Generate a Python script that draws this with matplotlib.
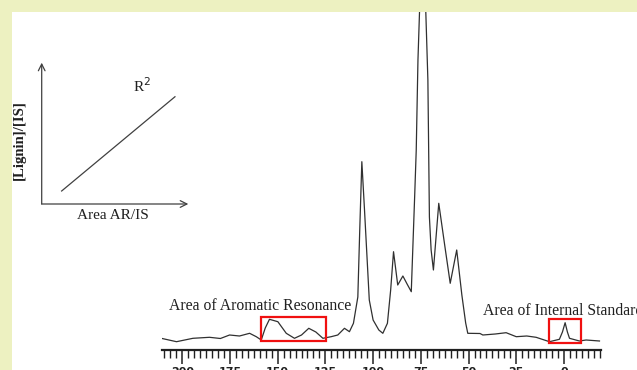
import matplotlib
matplotlib.use("Agg")
import matplotlib.pyplot as plt
import numpy as np
from matplotlib.patches import Rectangle
from matplotlib.ticker import MultipleLocator

# spectrum trace: chemical shift (ppm) and intensity
ppm = [211, 203, 194.4, 185.7, 180, 175.2, 170, 164.7, 161.2, 158.6,
       156.5, 154.3, 149.9, 145.5, 141.2, 137.5, 133.7, 130, 126.3, 122,
       118.5, 115, 112.4, 110.3, 108.0, 107.0, 105.9, 104.5, 102, 100,
       97, 94.9, 92.5, 90.8, 89.3, 87.1, 84.4, 82.2, 80, 78.2, 77.4, 76.5,
       75.7, 74.0, 72.5, 71.3, 70.5, 69.6, 68.4, 65.6, 62.5, 59.6, 56.2,
       53.5, 51.5, 50.4, 44, 42.5, 36, 30.3, 25, 19.5, 14.6, 7.6, 2.4,
       0.8, -0.6, -1.8, -2.9, -8.1, -11.6, -18.6]
intensity = [11.7, 8.3, 11.7, 12.7, 11.5, 15, 14, 16.7, 13.3, 10,
             22, 30.7, 28.3, 16.7, 11.7, 15, 21.7, 18, 11.7, 13.3,
             15, 21.7, 18.3, 26.7, 53, 120, 188.3, 140, 50, 30,
             20, 16.7, 26.7, 60, 98.3, 65, 74, 66, 58.3, 155, 200, 290,
             337, 420, 345, 270, 133, 100, 80, 146.7, 105, 66.7, 100,
             55, 27, 16.7, 16.5, 15, 16, 17.3, 13.3, 14, 12.7, 8.3, 10.7,
             18, 27.3, 18, 11.7, 9, 10, 9]

# integration windows (ppm from, ppm to, intensity low, high)
aromatic_box = (158.6, 124.9, 9.0, 33.3)
standard_box = (7.6, -9.0, 7.3, 31.0)

major_ticks = [200, 175, 150, 125, 100, 75, 50, 25, 0]

# calibration sketch
fit_x = [0.136, 0.909]
fit_y = [0.092, 0.759]

W, H = 637, 370
fig = plt.figure(figsize=(W / 100, H / 100), dpi=100)
fig.patch.set_facecolor("white")

# pale frame at top and left
border = "#EDF1C1"
fig.add_artist(Rectangle((0, 0), 12 / W, 1, transform=fig.transFigure,
                         facecolor=border, edgecolor="none", zorder=0))
fig.add_artist(Rectangle((0, 1 - 12 / H), 1, 12 / H, transform=fig.transFigure,
                         facecolor=border, edgecolor="none", zorder=0))

serif = "Liberation Serif"

# ---- spectrum ----
ax = fig.add_axes([162 / W, (H - 350) / H, 439 / W, 338 / H])
ax.patch.set_alpha(0)
ax.plot(ppm, intensity, color="#303030", lw=0.9)
ax.set_xlim(210.6, -19.4)
ax.set_ylim(0, 338)
for s in ["left", "right", "top"]:
    ax.spines[s].set_visible(False)
ax.spines["bottom"].set_linewidth(1.6)
ax.spines["bottom"].set_color("#202020")
ax.set_yticks([])
ax.set_xticks(major_ticks)
ax.xaxis.set_minor_locator(MultipleLocator(3.125))
ax.tick_params(axis="x", which="major", length=10, width=1.1, color="#202020",
               pad=2.5, labelsize=8)
ax.tick_params(axis="x", which="minor", length=6, width=1.0, color="#202020")
for lab in ax.get_xticklabels():
    lab.set_fontweight("bold")
    lab.set_color("#202020")

for (x0, x1, y0, y1) in [aromatic_box, standard_box]:
    ax.add_patch(Rectangle((x1, y0), x0 - x1, y1 - y0, fill=False,
                           edgecolor="#F01010", lw=1.6, zorder=3))

ax.text(159, 44, "Area of Aromatic Resonance", family=serif, fontsize=11.3,
        ha="center", va="center", color="#202020")
ax.text(42.5, 39, "Area of Internal Standard", family=serif, fontsize=11.3,
        ha="left", va="center", color="#202020", clip_on=False)

# ---- calibration inset ----
ia = fig.add_axes([41.7 / W, (H - 204) / H, 146.6 / W, 141.3 / H])
ia.set_xlim(0, 1)
ia.set_ylim(0, 1)
ia.axis("off")
ia.patch.set_alpha(0)
gray = "#404040"
ia.annotate("", xy=(1, 0), xytext=(0, 0),
            arrowprops=dict(arrowstyle="->", color=gray, lw=0.9,
                            shrinkA=0, shrinkB=0, mutation_scale=12))
ia.annotate("", xy=(0, 1), xytext=(0, 0),
            arrowprops=dict(arrowstyle="->", color=gray, lw=0.9,
                            shrinkA=0, shrinkB=0, mutation_scale=12))
ia.plot(fit_x, fit_y, color=gray, lw=0.9)
ia.text(0.684, 0.835, "R$^2$", family=serif, fontsize=11, ha="center",
        va="center", color="#202020")
ia.text(0.487, -0.078, "Area AR/IS", family=serif, fontsize=11, ha="center",
        va="center", color="#202020", clip_on=False)
ia.text(-0.151, 0.453, "[Lignin]/[IS]", family=serif, fontsize=10.6,
        fontweight="bold", rotation=90, ha="center", va="center",
        color="#202020", clip_on=False)

fig.savefig("out.png", dpi=100)
